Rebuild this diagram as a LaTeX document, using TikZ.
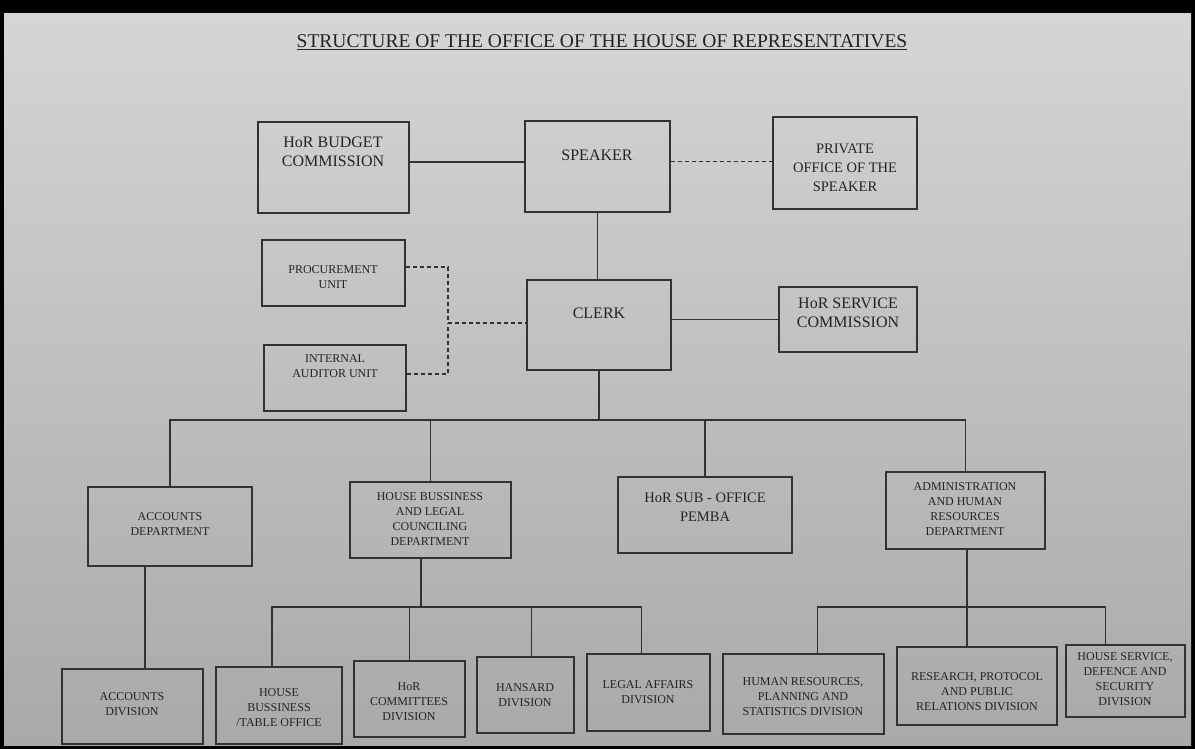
\documentclass[tikz,border=0pt]{standalone}
\usepackage{fontspec}
\setmainfont{Liberation Serif}
\usetikzlibrary{fit}
\definecolor{ink}{RGB}{50,50,50}
\definecolor{txt}{RGB}{35,35,35}
\definecolor{papertop}{RGB}{212,214,214}
\definecolor{paperbot}{RGB}{168,170,170}
\tikzset{
  box/.style={draw=ink, line width=1.6pt, inner sep=0pt},
  lbl/.style={text=txt, align=center, inner sep=0pt},
  bigtxt/.style={lbl, font=\fontsize{16}{19.5}\selectfont},
  midtxt/.style={lbl, font=\fontsize{14.5}{19}\selectfont},
  smalltxt/.style={lbl, font=\fontsize{12}{15}\selectfont},
  conn/.style={draw=ink, line width=1.6pt},
  dconn/.style={conn, dash pattern=on 4pt off 3pt}
}
\begin{document}
\begin{tikzpicture}[x=1pt,y=-1pt]
\useasboundingbox (0,0) rectangle (1195,749);
\fill[black] (0,0) rectangle (1195,749);
\shade[top color=papertop, bottom color=paperbot] (4,14) rectangle (1191,745);

% title
\node[lbl, font=\fontsize{19.5}{22}\selectfont] (title) at (602,42) {\underline{STRUCTURE OF THE OFFICE OF THE HOUSE OF REPRESENTATIVES}};

% top level boxes
\node[box, fit={(258,122) (409,213)}] (budget) {};
\node[box, fit={(525,121) (670,212)}] (speaker) {};
\node[box, fit={(773,117) (917,209)}] (private) {};
\node[box, fit={(262,240) (405,306)}] (proc) {};
\node[box, fit={(264,345) (406,411)}] (aud) {};
\node[box, fit={(527,280) (671,370)}] (clerk) {};
\node[box, fit={(779,287) (917,352)}] (service) {};

\node[bigtxt] (budget-t) at (333,152) {HoR BUDGET\\COMMISSION};
\node[bigtxt] (speaker-t) at (597,155) {SPEAKER};
\node[midtxt] (private-t) at (845,168) {PRIVATE\\OFFICE OF THE\\SPEAKER};
\node[smalltxt] (proc-t) at (333,277) {PROCUREMENT\\UNIT};
\node[smalltxt] (aud-t) at (335,366) {INTERNAL\\AUDITOR UNIT};
\node[bigtxt] (clerk-t) at (599,313) {CLERK};
\node[bigtxt] (service-t) at (848,313) {HoR SERVICE\\COMMISSION};

% departments
\node[box, fit={(88,487) (252,566)}] (acctdept) {};
\node[box, fit={(350,482) (511,558)}] (hbdept) {};
\node[box, fit={(618,477) (792,553)}] (pemba) {};
\node[box, fit={(886,472) (1045,549)}] (admin) {};

\node[smalltxt] (acctdept-t) at (170,524) {ACCOUNTS\\DEPARTMENT};
\node[smalltxt] (hbdept-t) at (430,519) {HOUSE BUSSINESS\\AND LEGAL\\COUNCILING\\DEPARTMENT};
\node[midtxt] (pemba-t) at (705,507) {HoR SUB - OFFICE\\PEMBA};
\node[smalltxt] (admin-t) at (965,509) {ADMINISTRATION\\AND HUMAN\\RESOURCES\\DEPARTMENT};

% divisions
\node[box, fit={(62,669) (203,744)}] (acctdiv) {};
\node[box, fit={(216,667) (342,744)}] (hbto) {};
\node[box, fit={(354,661) (465,737)}] (comm) {};
\node[box, fit={(477,657) (574,733)}] (hansard) {};
\node[box, fit={(587,654) (710,731)}] (legal) {};
\node[box, fit={(723,654) (884,734)}] (hrdiv) {};
\node[box, fit={(897,647) (1057,725)}] (research) {};
\node[box, fit={(1066,645) (1185,717)}] (hsdiv) {};

\node[smalltxt] (acctdiv-t) at (132,704) {ACCOUNTS\\DIVISION};
\node[smalltxt] (hbto-t) at (279,708) {HOUSE\\BUSSINESS\\/TABLE OFFICE};
\node[smalltxt] (comm-t) at (409,702) {HoR\\COMMITTEES\\DIVISION};
\node[smalltxt] (hansard-t) at (525,695) {HANSARD\\DIVISION};
\node[smalltxt] (legal-t) at (648,692) {LEGAL AFFAIRS\\DIVISION};
\node[smalltxt] (hrdiv-t) at (803,697) {HUMAN RESOURCES,\\PLANNING AND\\STATISTICS DIVISION};
\node[smalltxt] (research-t) at (977,692) {RESEARCH, PROTOCOL\\AND PUBLIC\\RELATIONS DIVISION};
\node[smalltxt] (hsdiv-t) at (1125,679) {HOUSE SERVICE,\\DEFENCE AND\\SECURITY\\DIVISION};

% connectors: top
\draw[conn] ([yshift=5.5pt]budget.east) -- ([yshift=5.5pt]budget.east -| speaker.west);
\draw[dconn] ([yshift=5pt]speaker.east) -- ([yshift=5pt]speaker.east -| private.west);
\draw[conn] (speaker.south) -- (speaker.south |- clerk.north);
\draw[conn] (service.west -| clerk.east) -- (service.west);

\coordinate (dj) at (448,323);
\draw[dconn] ([yshift=6pt]proc.east) -| (dj);
\draw[dconn] ([yshift=4pt]aud.east) -| (dj);
\draw[dconn] (dj) -- (dj -| clerk.west);

% clerk bus
\coordinate (bus1) at (599,420);
\draw[conn] (clerk.south) -- (bus1);
\draw[conn] (acctdept.north) |- (bus1) -| (admin.north);
\draw[conn] (hbdept.north) -- (hbdept.north |- bus1);
\draw[conn] (pemba.north) -- (pemba.north |- bus1);

% accounts
\draw[conn] ([xshift=-25pt]acctdept.south) -- ([xshift=-25pt]acctdept.south |- acctdiv.north);

% house business bus
\coordinate (bus2) at (421,607);
\draw[conn] ([xshift=-9.5pt]hbdept.south) -- (bus2);
\draw[conn] ([xshift=-7pt]hbto.north) |- (bus2) -| ([xshift=-7pt]legal.north);
\draw[conn] (comm.north) -- (comm.north |- bus2);
\draw[conn] ([xshift=6pt]hansard.north) -- ([xshift=6pt]hansard.north |- bus2);

% admin bus
\coordinate (bus3) at (967,607);
\draw[conn] ([xshift=1.5pt]admin.south) -- (bus3);
\draw[conn] ([xshift=14pt]hrdiv.north) |- (bus3) -| ([xshift=-20pt]hsdiv.north);
\draw[conn] ([xshift=-10pt]research.north) -- ([xshift=-10pt]research.north |- bus3);
\end{tikzpicture}
\end{document}
